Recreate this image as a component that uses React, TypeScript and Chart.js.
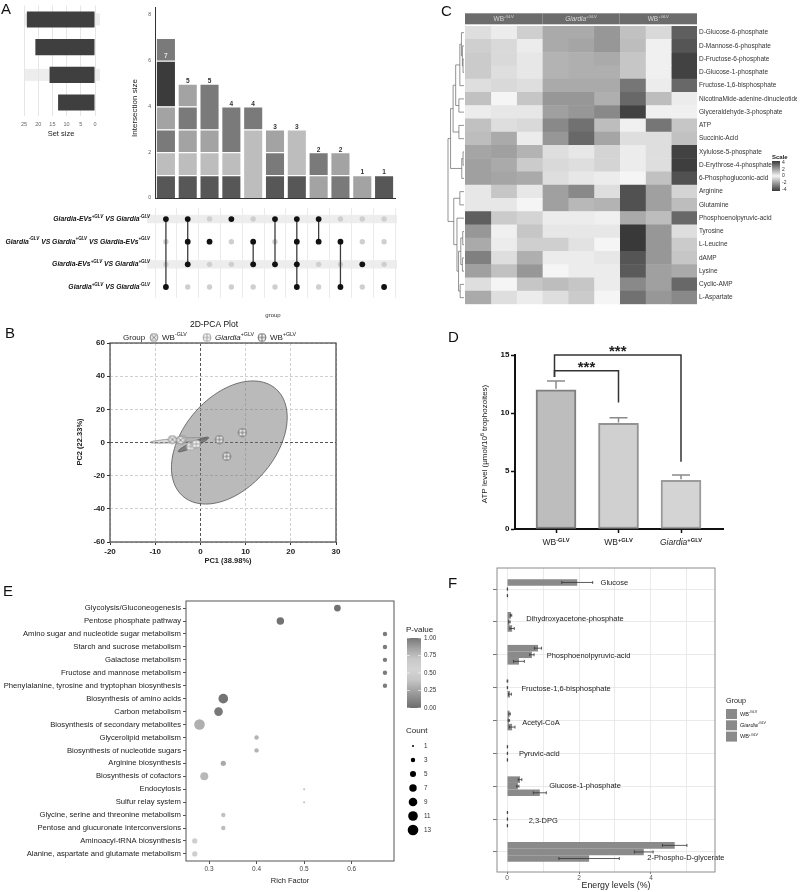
import React, { useEffect, useRef } from 'react';
import { Chart, registerables } from 'chart.js';

Chart.register(...registerables);

const FF = '"Liberation Sans", Arial, Helvetica, sans-serif';
Chart.defaults.font.family = FF;
Chart.defaults.color = '#333';

const PW = 800;
const PH = 892;

/* ============================ DATA ============================ */
// A — UpSet plot
const A_SET_NAMES = [
  'Giardia-EVs^{+GLV} VS Giardia^{-GLV}',
  'Giardia^{-GLV} VS Giardia^{+GLV} VS Giardia-EVs^{+GLV}',
  'Giardia-EVs^{+GLV} VS Giardia^{+GLV}',
  'Giardia^{+GLV} VS Giardia^{-GLV}',
];
const A_SET_SIZES = [24, 21, 16, 13];
const A_INTERSECTIONS = [[0, 3], [0, 1, 2], [1], [0], [1, 2], [0, 2], [0, 1, 2, 3], [0, 1], [1, 3], [2], [3]];
const A_INTERSECTION_SIZES = [7, 5, 5, 4, 4, 3, 3, 2, 2, 1, 1];
const A_SEGMENT_SIZES = [[1, 1, 1, 1, 2, 1], [1, 1, 1, 1, 1], [1, 1, 1, 2], [1, 1, 2], [3, 1], [1, 1, 1], [1, 2], [1, 1], [1, 1], [1], [1]];
const A_SEGMENT_SHADES = [
  ['D', 'L', 'M', 'ML', 'VD', 'M'], ['D', 'L', 'ML', 'M', 'ML'], ['D', 'L', 'ML', 'M'], ['D', 'L', 'M'], ['L', 'M'],
  ['D', 'M', 'ML'], ['D', 'L'], ['ML', 'M'], ['M', 'ML'], ['ML'], ['D'],
];

// C — heatmap
const C_METABOLITES = [
  'D-Glucose-6-phosphate', 'D-Mannose-6-phosphate', 'D-Fructose-6-phosphate', 'D-Glucose-1-phosphate',
  'Fructose-1,6-bisphosphate', 'NicotinaMide-adenine-dinucleotide', 'Glyceraldehyde-3-phosphate', 'ATP',
  'Succinic-Acid', 'Xylulose-5-phosphate', 'D-Erythrose-4-phosphate', '6-Phosphogluconic-acid', 'Arginine',
  'Glutamine', 'Phosphoenolpyruvic-acid', 'Tyrosine', 'L-Leucine', 'dAMP', 'Lysine', 'Cyclic-AMP', 'L-Aspartate',
];
const C_GROUPS = ['WB^{-GLV}', '*Giardia*^{+GLV}', 'WB^{+GLV}'];
const C_SAMPLE_GROUP = [0, 0, 0, 1, 1, 1, 2, 2, 2];
const C_ZSCORES = [
  [-0.5, -0.2, -0.8, 1.6, 1.6, 2.0, -1.1, -0.6, 3.2],
  [-0.8, -0.6, -0.2, 1.6, 1.7, 2.0, -1.2, -0.1, 3.4],
  [-0.9, -0.6, -0.3, 1.4, 1.5, 1.6, -1.0, -0.1, 3.8],
  [-0.9, -0.5, -0.3, 1.4, 1.5, 1.5, -1.0, -0.1, 3.8],
  [-0.5, -0.6, -0.5, 1.6, 1.6, 1.6, 2.7, -0.2, 3.0],
  [-1.1, 0.0, -1.0, 2.0, 2.0, 1.5, 3.0, -1.2, -0.2],
  [-0.2, -0.3, -0.3, 1.8, 2.0, 2.3, 3.8, -0.1, -0.1],
  [-1.1, -0.5, -0.6, 2.3, 2.8, 1.2, -0.1, 2.7, -1.0],
  [-1.2, -1.6, -0.2, 2.0, 3.0, 1.7, -0.5, -0.5, -1.1],
  [-1.7, -1.8, -1.4, 0.5, 0.3, 0.7, -0.2, -0.5, 3.8],
  [-1.8, -1.6, -0.9, 0.6, 0.5, 0.7, -0.2, -0.5, 3.9],
  [-1.8, -1.7, -1.6, 0.5, 0.3, 0.2, 0.0, -1.1, 3.5],
  [-0.3, -1.0, -0.3, 1.8, 2.3, 0.5, 3.5, 1.8, -0.7],
  [-0.3, -0.3, 0.0, 1.8, 1.3, 1.4, 3.5, 1.8, -1.2],
  [-3.2, -0.9, -0.7, -0.2, -0.2, -0.1, 1.6, 1.2, 3.0],
  [-2.0, -0.1, -1.0, -0.3, -0.3, -0.3, 4.0, 2.0, -0.5],
  [-1.6, -0.2, -0.8, -0.8, -0.4, 0.0, 4.0, 2.0, -0.9],
  [-2.5, -0.5, -1.5, -0.2, -0.2, -0.3, 3.4, 2.0, -1.0],
  [-1.8, -1.1, -2.0, 0.0, -0.2, -0.2, 3.3, 1.8, -1.6],
  [-0.5, 0.0, -1.0, -1.2, -1.0, -0.2, 2.3, 1.8, 3.0],
  [-1.6, -0.5, -0.2, -0.5, -0.9, 0.0, 2.8, 2.0, 2.3],
];
const C_SCALE_TICKS = [4, 2, 0, -2, -4];
// [childA, childB, height]; leaves 0..20, merged nodes numbered from 21
const C_DENDROGRAM = [
  [2, 3, 0.3], [1, 21, 0.5], [0, 22, 0.8], [23, 4, 1.3], [5, 6, 1.6], [24, 25, 2.6], [7, 8, 1.6], [26, 27, 3.4],
  [9, 10, 0.3], [29, 11, 0.7], [28, 30, 4.2], [12, 13, 1.3], [15, 16, 0.4], [17, 18, 0.5], [33, 34, 1.0],
  [19, 20, 1.2], [35, 36, 1.7], [14, 37, 2.2], [32, 38, 3.2], [31, 39, 5.0],
];

// B — PCA
const B_GROUPS = ['WB^{-GLV}', '*Giardia*^{+GLV}', 'WB^{+GLV}'];
const B_PC1 = [[-6.2, -4.0, -4.4], [-2.2, -1.1, -0.9], [4.2, 9.3, 5.8]];
const B_PC2 = [[1.8, 1.8, 1.4], [-2.4, -1.2, -0.9], [1.8, 6.0, -8.4]];
const B_ELLIPSE_CENTER = [[-4.8, 1.3], [-1.55, -1.2], [6.4, 0]];
const B_ELLIPSE_AXIS_A = [[6.3, 1.2], [3.35, 4.2], [10, 33]];
const B_ELLIPSE_AXIS_B = [[0.03, -1.2], [0.23, -1.4], [8, -17]];

// D — ATP bars
const D_GROUPS = ['WB^{-GLV}', 'WB^{+GLV}', '*Giardia*^{+GLV}'];
const D_ATP = [12.0, 9.1, 4.2];
const D_ATP_ERR = [0.75, 0.5, 0.45];
const D_COMPARISONS = [[0, 1], [0, 2]];
const D_COMPARISON_TEXT = ['***', '***'];
const D_BRACKET_Y = [13.65, 15];
const D_BRACKET_LEFT_END = [13.1, 13.1];
const D_BRACKET_RIGHT_END = [10.9, 5.8];

// E — KEGG enrichment
const E_PATHWAYS = [
  'Glycolysis/Gluconeogenesis', 'Pentose phosphate pathway', 'Amino sugar and nucleotide sugar metabolism',
  'Starch and sucrose metabolism', 'Galactose metabolism', 'Fructose and mannose metabolism',
  'Phenylalanine, tyrosine and tryptophan biosynthesis', 'Biosynthesis of amino acids', 'Carbon metabolism',
  'Biosynthesis of secondary metabolites', 'Glycerolipid metabolism', 'Biosynthesis of nucleotide sugars',
  'Arginine biosynthesis', 'Biosynthesis of cofactors', 'Endocytosis', 'Sulfur relay system',
  'Glycine, serine and threonine metabolism', 'Pentose and glucuronate interconversions',
  'Aminoacyl-tRNA biosynthesis', 'Alanine, aspartate and glutamate metabolism',
];
const E_RICH_FACTOR = [0.57, 0.45, 0.67, 0.67, 0.67, 0.67, 0.67, 0.33, 0.32, 0.28, 0.4, 0.4, 0.33, 0.29, 0.5, 0.5, 0.33, 0.33, 0.27, 0.27];
const E_COUNT = [6, 7, 3, 3, 3, 3, 3, 11, 9, 13, 3, 3, 4, 8, 1, 1, 3, 3, 4, 4];
const E_PVALUE = [0.02, 0.03, 0.07, 0.07, 0.07, 0.07, 0.07, 0.03, 0.05, 0.3, 0.32, 0.32, 0.28, 0.34, 0.36, 0.36, 0.38, 0.36, 0.5, 0.5];
const E_COUNT_LEGEND = [1, 3, 5, 7, 9, 11, 13];
const E_PVALUE_TICKS = [1, 0.75, 0.5, 0.25, 0];

// F — energy metabolites
const F_METABOLITES = [
  'Glucose', 'Dihydroxyacetone-phosphate', 'Phosphoenolpyruvic-acid', 'Fructose-1,6-bisphosphate', 'Acetyl-CoA',
  'Pyruvic-acid', 'Glucose-1-phosphate', '2,3-DPG', '2-Phospho-D-glycerate',
];
const F_GROUPS = ['WB^{-GLV}', '*Giardia*^{-GLV}', 'WB^{+GLV}'];
const F_WB_NEG = [1.95, 0.11, 0.86, 0.01, 0.07, 0.01, 0.36, 0.01, 4.66];
const F_WB_NEG_SD = [0.43, 0.02, 0.1, 0.01, 0.02, 0.005, 0.05, 0.005, 0.34];
const F_GIARDIA = [0.01, 0.065, 0.69, 0.01, 0.05, 0.01, 0.3, 0.01, 3.8];
const F_GIARDIA_SD = [0.005, 0.02, 0.06, 0.005, 0.02, 0.005, 0.03, 0.005, 0.26];
const F_WB_POS = [0.01, 0.14, 0.33, 0.08, 0.14, 0.01, 0.91, 0.01, 2.28];
const F_WB_POS_SD = [0.005, 0.06, 0.15, 0.04, 0.08, 0.005, 0.18, 0.005, 0.84];

/* ============================ STYLE / LAYOUT ============================ */
const A_SHADE: Record<string, string> = { VD: '#3b3b3b', D: '#575757', M: '#7a7a7a', ML: '#a3a3a3', L: '#bdbdbd' };
const A_LABEL_INSIDE_INDEX = 0;
const F_LABEL_X = [2.6, 0.53, 1.1, 0.4, 0.42, 0.33, 1.17, 0.6, 3.9];
const F_LABEL_DY = [-6, -3, 1, 1, 2, 1, 0, 2, 6];
const E_P_STOPS: [number, number][] = [[0, 108], [0.1, 131], [0.25, 163], [0.4, 198], [0.55, 212], [0.7, 200], [0.85, 164], [1, 120]];

function gray(g: number) { const v = Math.round(g); return `rgb(${v},${v},${v})`; }
function heatGray(z: number) { return gray(Math.max(52, Math.min(246, 245 - Math.abs(z) * 47))); }
function pColor(p: number) {
  for (let i = 1; i < E_P_STOPS.length; i++) {
    const [p1, g1] = E_P_STOPS[i];
    const [p0, g0] = E_P_STOPS[i - 1];
    if (p <= p1) return gray(g0 + (g1 - g0) * (p - p0) / (p1 - p0));
  }
  return gray(E_P_STOPS[E_P_STOPS.length - 1][1]);
}
function eRadius(c: number) { return 1 + 4.3 * (Math.sqrt(c) - 1) / (Math.sqrt(13) - 1); }

/* ============================ TEXT HELPERS ============================ */
type Seg = { t: string; it: boolean; sup: boolean };
function parseRich(s: string): Seg[] {
  const out: Seg[] = [];
  let it = false; let buf = ''; let i = 0;
  const flush = () => { if (buf) out.push({ t: buf, it, sup: false }); buf = ''; };
  while (i < s.length) {
    const ch = s[i];
    if (ch === '*') { flush(); it = !it; i++; continue; }
    if (ch === '^' && s[i + 1] === '{') {
      flush(); const j = s.indexOf('}', i);
      out.push({ t: s.slice(i + 2, j), it, sup: true }); i = j + 1; continue;
    }
    buf += ch; i++;
  }
  flush();
  return out;
}
type RO = { size: number; color?: string; bold?: boolean; italic?: boolean; supBold?: boolean; align?: string; supScale?: number };
function segFont(sg: Seg, o: RO) {
  const sz = sg.sup ? o.size * (o.supScale ?? 0.66) : o.size;
  const b = sg.sup ? (o.supBold ?? o.bold) : o.bold;
  return `${sg.it || o.italic ? 'italic ' : ''}${b ? 'bold ' : ''}${sz}px ${FF}`;
}
function drawRich(ctx: CanvasRenderingContext2D, s: string, x: number, y: number, o: RO) {
  const segs = parseRich(s);
  let total = 0;
  const ws = segs.map((sg) => { ctx.font = segFont(sg, o); const w = ctx.measureText(sg.t).width; total += w; return w; });
  let cx = o.align === 'right' ? x - total : o.align === 'center' ? x - total / 2 : x;
  ctx.fillStyle = o.color ?? '#222';
  ctx.textBaseline = 'middle';
  ctx.textAlign = 'left';
  segs.forEach((sg, k) => {
    ctx.font = segFont(sg, o);
    ctx.fillText(sg.t, cx, sg.sup ? y - o.size * 0.36 : y);
    cx += ws[k];
  });
  return total;
}
function drawRotated(ctx: CanvasRenderingContext2D, s: string, x: number, y: number, o: RO) {
  ctx.save(); ctx.translate(x, y); ctx.rotate(-Math.PI / 2);
  drawRich(ctx, s, 0, 0, { ...o, align: 'center' });
  ctx.restore();
}
function txt(ctx: CanvasRenderingContext2D, t: string, x: number, y: number, size: number, o: any = {}) {
  ctx.font = `${o.italic ? 'italic ' : ''}${o.bold ? 'bold ' : ''}${size}px ${FF}`;
  ctx.fillStyle = o.color ?? '#222';
  ctx.textAlign = o.align ?? 'left';
  ctx.textBaseline = o.baseline ?? 'middle';
  ctx.fillText(t, x, y);
}
function letter(ctx: CanvasRenderingContext2D, t: string, x: number, y: number) {
  txt(ctx, t, x, y, 15, { color: '#111', baseline: 'alphabetic' });
}

/* ============================ COMMON ============================ */
function pad(left: number, top: number, right: number, bottom: number) {
  return { left, top, right: PW - right, bottom: PH - bottom };
}
function baseOptions(padding: any, scales: any, extra: any = {}) {
  return {
    responsive: false,
    maintainAspectRatio: false,
    animation: false,
    events: [],
    layout: { padding },
    plugins: { legend: { display: false }, tooltip: { enabled: false } },
    scales,
    ...extra,
  };
}
function plugin(id: string, hooks: any) {
  const wrapped: any = { id };
  Object.keys(hooks).forEach((k) => {
    wrapped[k] = (chart: any) => { const ctx = chart.ctx; ctx.save(); hooks[k](ctx, chart); ctx.restore(); };
  });
  return wrapped;
}

/* ============================ PANEL A ============================ */
function cfgA1() {
  return {
    type: 'bar',
    data: {
      labels: A_SET_NAMES,
      datasets: [{ data: A_SET_SIZES, backgroundColor: '#3f3f3f', barPercentage: 0.58, categoryPercentage: 1 }],
    },
    options: baseOptions(pad(24, 5.6, 95, 116.4 + 20), {
      x: {
        type: 'linear', min: 0, max: 25, reverse: true,
        ticks: { stepSize: 5, font: { size: 5.5 }, color: '#666', padding: 5 },
        grid: { color: '#e6e6e6', drawTicks: false },
        border: { display: false },
        afterFit: (s: any) => { s.height = 20; },
      },
      y: { type: 'category', display: false },
    }, { indexAxis: 'y' }),
    plugins: [plugin('a1', {
      beforeDraw: (ctx: CanvasRenderingContext2D, chart: any) => {
        const y = chart.scales.y;
        ctx.fillStyle = '#ededed';
        A_SET_SIZES.forEach((_, i) => { if (i % 2 === 0) ctx.fillRect(25, y.getPixelForValue(i) - 6, 75, 12); });
      },
      afterDraw: (ctx: CanvasRenderingContext2D) => {
        txt(ctx, 'Set size', 61, 134, 7.5, { align: 'center', color: '#222' });
        letter(ctx, 'A', 1, 13.5);
      },
    })],
  };
}

function cfgA2() {
  const nLayers = Math.max(...A_SEGMENT_SIZES.map((s) => s.length));
  const datasets: any[] = [];
  for (let k = 0; k < nLayers; k++) {
    datasets.push({
      data: A_SEGMENT_SIZES.map((s) => (s[k] === undefined ? null : s[k])),
      backgroundColor: A_SEGMENT_SHADES.map((s) => A_SHADE[s[k]] ?? 'rgba(0,0,0,0)'),
      borderColor: '#ffffff', borderWidth: 1, borderSkipped: 'start',
      barPercentage: 0.92, categoryPercentage: 1,
    });
  }
  return {
    type: 'bar',
    data: { labels: A_INTERSECTION_SIZES.map((_, i) => `I${i + 1}`), datasets },
    options: baseOptions(pad(155 - 10, 5, 395, 198), {
      x: {
        stacked: true, ticks: { display: false }, grid: { display: false, drawTicks: false },
        border: { display: true, color: '#333', width: 1 }, afterFit: (s: any) => { s.height = 0; },
      },
      y: {
        stacked: true, min: 0, max: 8.35,
        ticks: { stepSize: 2, includeBounds: false, font: { size: 5 }, color: '#555', padding: 4 },
        grid: { display: false, drawTicks: false },
        border: { display: true, color: '#333', width: 1 },
        afterFit: (s: any) => { s.width = 10; },
      },
    }),
    plugins: [plugin('a2', {
      afterDatasetsDraw: (ctx: CanvasRenderingContext2D, chart: any) => {
        const { x, y } = chart.scales;
        A_INTERSECTION_SIZES.forEach((n, i) => {
          const inside = i === A_LABEL_INSIDE_INDEX;
          const py = inside ? y.getPixelForValue(n - 0.8) : y.getPixelForValue(n) - 2.5;
          txt(ctx, String(n), x.getPixelForValue(i), py, 6.5, { bold: true, align: 'center', color: inside ? '#e4e4e4' : '#333' });
        });
      },
      afterDraw: (ctx: CanvasRenderingContext2D) => {
        drawRotated(ctx, 'Intersection size', 135, 108, { size: 8, color: '#222' });
      },
    })],
  };
}

function cfgA3() {
  const active: any[] = [];
  const inactive: any[] = [];
  const lines: any[] = [];
  A_INTERSECTIONS.forEach((sets, i) => {
    A_SET_NAMES.forEach((_, r) => (sets.includes(r) ? active : inactive).push({ x: i, y: r }));
    if (sets.length > 1) {
      lines.push({
        type: 'line', data: [{ x: i, y: Math.min(...sets) }, { x: i, y: Math.max(...sets) }],
        borderColor: '#3c3c3c', borderWidth: 1.3, pointRadius: 0, order: 1,
      });
    }
  });
  return {
    type: 'scatter',
    data: {
      datasets: [
        { data: active, backgroundColor: '#111', borderWidth: 0, pointRadius: 2.9, order: 0 },
        ...lines,
        { data: inactive, backgroundColor: '#cfcfcf', borderWidth: 0, pointRadius: 2.7, order: 2 },
      ],
    },
    options: baseOptions(pad(155, 207.7, 395, 298.3), {
      x: {
        type: 'linear', min: -0.5, max: 10.5,
        ticks: { display: false, stepSize: 1, includeBounds: false },
        grid: { color: '#ebebeb', drawTicks: false }, border: { display: false },
        afterFit: (s: any) => { s.height = 0; },
      },
      y: { type: 'linear', min: -0.5, max: 3.5, reverse: true, display: false },
    }),
    plugins: [plugin('a3', {
      beforeDraw: (ctx: CanvasRenderingContext2D, chart: any) => {
        const y = chart.scales.y;
        ctx.fillStyle = '#ededed';
        A_SET_NAMES.forEach((_, r) => { if (r % 2 === 0) ctx.fillRect(147, y.getPixelForValue(r) - 4.2, 250, 8.4); });
      },
      afterDraw: (ctx: CanvasRenderingContext2D, chart: any) => {
        const y = chart.scales.y;
        A_SET_NAMES.forEach((name, r) => {
          drawRich(ctx, name, 150, y.getPixelForValue(r), { size: 6.8, bold: true, italic: true, align: 'right', color: '#111' });
        });
        txt(ctx, 'group', 273, 315, 6, { align: 'center', color: '#333' });
      },
    })],
  };
}

/* ============================ PANEL C ============================ */
function cfgC() {
  const datasets = C_SAMPLE_GROUP.map((_, j) => ({
    data: C_METABOLITES.map(() => 1),
    backgroundColor: C_ZSCORES.map((row) => heatGray(row[j])),
    borderWidth: 0, barPercentage: 1, categoryPercentage: 1,
  }));
  return {
    type: 'bar',
    data: { labels: C_METABOLITES, datasets },
    options: baseOptions(pad(465, 26, 697 + 100, 304.3), {
      x: { type: 'linear', stacked: true, min: 0, max: C_SAMPLE_GROUP.length, display: false },
      y: {
        position: 'right', stacked: true,
        ticks: { font: { size: 6.5 }, color: '#333', padding: 2, autoSkip: false },
        grid: { display: false, drawTicks: false }, border: { display: false },
        afterFit: (s: any) => { s.width = 100; },
      },
    }, { indexAxis: 'y' }),
    plugins: [plugin('c', {
      afterDraw: (ctx: CanvasRenderingContext2D, chart: any) => {
        const { x, y } = chart.scales;
        // header bars
        C_GROUPS.forEach((g, gi) => {
          const cols = C_SAMPLE_GROUP.map((v, j) => (v === gi ? j : -1)).filter((j) => j >= 0);
          const x0 = x.getPixelForValue(Math.min(...cols));
          const x1 = x.getPixelForValue(Math.max(...cols) + 1);
          ctx.fillStyle = '#6c6c6c';
          ctx.fillRect(x0, 13.3, x1 - x0, 11);
          drawRich(ctx, g, (x0 + x1) / 2, 18.8, { size: 6.5, color: '#d6d6d6', align: 'center' });
        });
        // dendrogram
        const pos: { x: number; y: number }[] = C_METABOLITES.map((_, i) => ({ x: 464, y: y.getPixelForValue(i) }));
        ctx.strokeStyle = '#666';
        ctx.lineWidth = 0.7;
        C_DENDROGRAM.forEach(([a, b, h]) => {
          const nx = 464 - h * 3.2;
          const pa = pos[a]; const pb = pos[b];
          ctx.beginPath();
          ctx.moveTo(pa.x, pa.y); ctx.lineTo(nx, pa.y); ctx.lineTo(nx, pb.y); ctx.lineTo(pb.x, pb.y);
          ctx.stroke();
          pos.push({ x: nx, y: (pa.y + pb.y) / 2 });
        });
        // scale legend
        txt(ctx, 'Scale', 772, 157, 6, { bold: true, color: '#222' });
        const top = 161; const bot = 191;
        const grad = ctx.createLinearGradient(0, top, 0, bot);
        C_SCALE_TICKS.forEach((v, k) => grad.addColorStop(k / (C_SCALE_TICKS.length - 1), heatGray(v)));
        ctx.fillStyle = grad;
        ctx.fillRect(772, top, 8, bot - top);
        C_SCALE_TICKS.forEach((v, k) => {
          txt(ctx, String(v), 782, top + 1.5 + k * (bot - top - 3) / (C_SCALE_TICKS.length - 1), 5, { color: '#333' });
        });
        letter(ctx, 'C', 441, 15.5);
      },
    })],
  };
}

/* ============================ PANEL B ============================ */
function makeMarker(kind: string, fill: string, stroke: string) {
  const c = document.createElement('canvas');
  c.width = 10; c.height = 10;
  const g = c.getContext('2d')!;
  g.fillStyle = fill; g.strokeStyle = stroke; g.lineWidth = 0.9;
  g.beginPath(); g.arc(5, 5, 4, 0, Math.PI * 2); g.fill(); g.stroke();
  g.beginPath();
  if (kind === '+') { g.moveTo(5, 1); g.lineTo(5, 9); g.moveTo(1, 5); g.lineTo(9, 5); } else {
    const d = 4 * Math.SQRT1_2;
    g.moveTo(5 - d, 5 - d); g.lineTo(5 + d, 5 + d); g.moveTo(5 + d, 5 - d); g.lineTo(5 - d, 5 + d);
  }
  g.stroke();
  return c;
}
function cfgB() {
  const markers = [makeMarker('x', '#e4e4e4', '#8a8a8a'), makeMarker('+', '#f3f3f3', '#a0a0a0'), makeMarker('+', '#f6f6f6', '#6a6a6a')];
  const fills = ['rgba(175,175,175,0.45)', 'rgba(70,70,70,0.5)', 'rgba(110,110,110,0.48)'];
  const strokes = ['#8c8c8c', '#555', '#555'];
  const tickFont = { size: 8, weight: 'bold' };
  const gridColor = (c: any) => (c.tick && c.tick.value === 0 ? '#555' : '#cfcfcf');
  return {
    type: 'scatter',
    data: {
      datasets: B_GROUPS.map((_, g) => ({
        data: B_PC1[g].map((v, i) => ({ x: v, y: B_PC2[g][i] })),
        pointStyle: markers[g], pointRadius: 4, order: 2 - g,
      })),
    },
    options: baseOptions(pad(110 - 26, 343, 336, 542 + 14), {
      x: {
        type: 'linear', min: -20, max: 30,
        ticks: { stepSize: 10, font: tickFont, color: '#222', padding: 2 },
        grid: { color: gridColor, lineWidth: 1, tickLength: 3, tickColor: '#333', tickBorderDash: [] },
        border: { display: false, dash: [3, 2] },
        afterFit: (s: any) => { s.height = 14; },
      },
      y: {
        type: 'linear', min: -60, max: 60,
        ticks: { stepSize: 20, font: tickFont, color: '#222', padding: 2 },
        grid: { color: gridColor, lineWidth: 1, tickLength: 3, tickColor: '#333', tickBorderDash: [] },
        border: { display: false, dash: [3, 2] },
        afterFit: (s: any) => { s.width = 26; },
      },
    }),
    plugins: [plugin('b', {
      beforeDatasetsDraw: (ctx: CanvasRenderingContext2D, chart: any) => {
        const { x, y } = chart.scales;
        const a = chart.chartArea;
        ctx.beginPath(); ctx.rect(a.left, a.top, a.right - a.left, a.bottom - a.top); ctx.clip();
        [2, 0, 1].forEach((g) => {
          const c = B_ELLIPSE_CENTER[g]; const u = B_ELLIPSE_AXIS_A[g]; const v = B_ELLIPSE_AXIS_B[g];
          ctx.beginPath();
          for (let k = 0; k <= 120; k++) {
            const t = (k / 120) * Math.PI * 2;
            const px = x.getPixelForValue(c[0] + u[0] * Math.cos(t) + v[0] * Math.sin(t));
            const py = y.getPixelForValue(c[1] + u[1] * Math.cos(t) + v[1] * Math.sin(t));
            if (k === 0) ctx.moveTo(px, py); else ctx.lineTo(px, py);
          }
          ctx.closePath();
          ctx.fillStyle = fills[g]; ctx.fill();
          ctx.strokeStyle = strokes[g]; ctx.lineWidth = 0.8; ctx.stroke();
        });
      },
      afterDraw: (ctx: CanvasRenderingContext2D, chart: any) => {
        const a = chart.chartArea;
        ctx.strokeStyle = '#444'; ctx.lineWidth = 1.2;
        ctx.strokeRect(a.left, a.top, a.right - a.left, a.bottom - a.top);
        txt(ctx, '2D-PCA Plot', 214, 325, 8.5, { align: 'center', color: '#111' });
        txt(ctx, 'Group', 123, 337.5, 8, { color: '#222' });
        const lx = [154, 207, 262];
        B_GROUPS.forEach((g, i) => {
          ctx.drawImage(markers[i], lx[i] - 5, 332.5);
          drawRich(ctx, g, lx[i] + 8, 337.5, { size: 8, color: '#222' });
        });
        drawRotated(ctx, 'PC2 (22.33%)', 80, 442, { size: 7.5, bold: true, color: '#222' });
        txt(ctx, 'PC1 (38.98%)', 228, 561, 7.5, { bold: true, align: 'center', color: '#222' });
        letter(ctx, 'B', 5, 337.5);
      },
    })],
  };
}

/* ============================ PANEL D ============================ */
function cfgD() {
  return {
    type: 'bar',
    data: {
      datasets: [{
        data: D_ATP.map((v, i) => ({ x: i, y: v })),
        backgroundColor: ['#bdbdbd', '#d0d0d0', '#d4d4d4'],
        borderColor: ['#7f7f7f', '#939393', '#9b9b9b'],
        borderWidth: 2, borderSkipped: false, barThickness: 40,
      }],
    },
    options: baseOptions(pad(515 - 16, 355, 723, 529 + 5), {
      x: {
        type: 'linear', min: -0.656, max: 2.672, offset: false,
        ticks: { stepSize: 1, includeBounds: false, display: false },
        grid: { drawOnChartArea: false, offset: false, tickLength: 4, tickWidth: 1.5, tickColor: '#111' },
        border: { display: true, color: '#111', width: 2 },
        afterFit: (s: any) => { s.height = 5; },
      },
      y: {
        type: 'linear', min: 0, max: 15,
        ticks: { stepSize: 5, font: { size: 8, weight: 'bold' }, color: '#111', padding: 1.5 },
        grid: { drawOnChartArea: false, tickLength: 4, tickWidth: 1.5, tickColor: '#111' },
        border: { display: true, color: '#111', width: 2 },
        afterFit: (s: any) => { s.width = 16; },
      },
    }),
    plugins: [plugin('d', {
      afterDatasetsDraw: (ctx: CanvasRenderingContext2D, chart: any) => {
        const { x, y } = chart.scales;
        ctx.strokeStyle = '#8a8a8a'; ctx.lineWidth = 1.5;
        D_ATP.forEach((v, i) => {
          const px = x.getPixelForValue(i);
          const top = y.getPixelForValue(v + D_ATP_ERR[i]);
          ctx.beginPath();
          ctx.moveTo(px, y.getPixelForValue(v) - 1); ctx.lineTo(px, top);
          ctx.moveTo(px - 9, top); ctx.lineTo(px + 9, top);
          ctx.stroke();
        });
        ctx.strokeStyle = '#333'; ctx.lineWidth = 1.5;
        D_COMPARISONS.forEach(([a, b], k) => {
          const xa = x.getPixelForValue(a) - 1.5;
          const xb = x.getPixelForValue(b);
          const yl = y.getPixelForValue(D_BRACKET_Y[k]);
          ctx.beginPath();
          ctx.moveTo(xa, y.getPixelForValue(D_BRACKET_LEFT_END[k]));
          ctx.lineTo(xa, yl); ctx.lineTo(xb, yl);
          ctx.lineTo(xb, y.getPixelForValue(D_BRACKET_RIGHT_END[k]));
          ctx.stroke();
          txt(ctx, D_COMPARISON_TEXT[k], (xa + xb) / 2, yl - 7 + 0.56 * 15, 15, { bold: true, align: 'center', baseline: 'alphabetic', color: '#222' });
        });
      },
      afterDraw: (ctx: CanvasRenderingContext2D, chart: any) => {
        const x = chart.scales.x;
        D_GROUPS.forEach((g, i) => {
          drawRich(ctx, g, x.getPixelForValue(i), 543, { size: 8.5, supBold: true, supScale: 0.68, align: 'center', color: '#222' });
        });
        drawRotated(ctx, 'ATP level (μmol/10^{6} trophozoites)', 485, 444, { size: 8, color: '#222' });
        letter(ctx, 'D', 448, 342);
      },
    })],
  };
}

/* ============================ PANEL E ============================ */
function cfgE() {
  return {
    type: 'bubble',
    data: {
      datasets: [{
        data: E_PATHWAYS.map((_, i) => ({ x: E_RICH_FACTOR[i], y: i, r: eRadius(E_COUNT[i]) })),
        backgroundColor: E_PVALUE.map(pColor),
        borderWidth: 0,
      }],
    },
    options: baseOptions(pad(3, 601, 394, 861 + 12), {
      x: {
        type: 'linear', min: 0.2516, max: 0.689,
        ticks: { stepSize: 0.1, includeBounds: false, font: { size: 6.5 }, color: '#444', padding: 1.5, callback: (v: number) => v.toFixed(1) },
        grid: { drawOnChartArea: false, tickLength: 3, tickColor: '#555' },
        border: { display: false },
        afterFit: (s: any) => { s.height = 12; },
      },
      y: {
        type: 'linear', min: -0.55, max: 19.55, reverse: true,
        ticks: { stepSize: 1, includeBounds: false, autoSkip: false, font: { size: 7.7 }, color: '#222', padding: 2, callback: (v: number) => E_PATHWAYS[v] ?? '' },
        grid: { drawOnChartArea: false, tickLength: 3, tickColor: '#555' },
        border: { display: false },
        afterFit: (s: any) => { s.width = 183; },
      },
    }),
    plugins: [plugin('e', {
      afterDraw: (ctx: CanvasRenderingContext2D, chart: any) => {
        const a = chart.chartArea;
        ctx.strokeStyle = '#555'; ctx.lineWidth = 1;
        ctx.strokeRect(a.left, a.top, a.right - a.left, a.bottom - a.top);
        txt(ctx, 'Rich Factor', (a.left + a.right) / 2, 881, 7.5, { align: 'center', color: '#222' });
        // P-value colour bar
        txt(ctx, 'P-value', 406, 630, 8, { color: '#222' });
        const top = 638; const bot = 708;
        const grad = ctx.createLinearGradient(0, top, 0, bot);
        E_P_STOPS.forEach(([p, g]) => grad.addColorStop(1 - p, gray(g)));
        ctx.fillStyle = grad;
        ctx.fillRect(407, top, 14, bot - top);
        E_PVALUE_TICKS.forEach((p) => {
          const py = top + (1 - p) * (bot - top);
          ctx.strokeStyle = '#fff'; ctx.lineWidth = 0.6;
          ctx.beginPath(); ctx.moveTo(407, py); ctx.lineTo(410, py); ctx.moveTo(418, py); ctx.lineTo(421, py); ctx.stroke();
          txt(ctx, p.toFixed(2), 424, py, 6.3, { color: '#333' });
        });
        // Count legend
        txt(ctx, 'Count', 406, 731, 8, { color: '#222' });
        E_COUNT_LEGEND.forEach((c, k) => {
          const py = 746 + k * 14;
          ctx.fillStyle = '#000';
          ctx.beginPath(); ctx.arc(413, py, eRadius(c), 0, Math.PI * 2); ctx.fill();
          txt(ctx, String(c), 424, py, 6.3, { color: '#333' });
        });
        letter(ctx, 'E', 3, 596);
      },
    })],
  };
}

/* ============================ PANEL F ============================ */
function cfgF() {
  const means = [F_WB_NEG, F_GIARDIA, F_WB_POS];
  const sds = [F_WB_NEG_SD, F_GIARDIA_SD, F_WB_POS_SD];
  return {
    type: 'bar',
    data: {
      datasets: means.map((m) => ({
        data: m.map((v, i) => ({ x: v, y: i })),
        backgroundColor: '#8a8a8a', borderWidth: 0, barPercentage: 1, categoryPercentage: 0.6,
      })),
    },
    options: baseOptions(pad(497 - 4, 568, 715, 872 + 10), {
      x: {
        type: 'linear', min: -0.28, max: 5.78,
        ticks: { stepSize: 1, includeBounds: false, font: { size: 6.5 }, color: '#555', padding: 0, callback: (v: number) => (v % 2 === 0 ? String(v) : '') },
        grid: { color: '#e4e4e4', lineWidth: 0.8, tickLength: 2, tickColor: (c: any) => (c.tick && c.tick.value % 2 === 0 ? '#555' : 'rgba(0,0,0,0)') },
        border: { display: false },
        afterFit: (s: any) => { s.height = 10; },
      },
      y: {
        type: 'linear', min: -0.64, max: 8.61, reverse: true, offset: false,
        ticks: { stepSize: 1, includeBounds: false, autoSkip: false, callback: () => '' },
        grid: { color: '#e4e4e4', lineWidth: 0.8, offset: false, tickLength: 4, tickColor: '#555' },
        border: { display: false },
        afterFit: (s: any) => { s.width = 4; },
      },
    }, { indexAxis: 'y' }),
    plugins: [plugin('f', {
      afterDatasetsDraw: (ctx: CanvasRenderingContext2D, chart: any) => {
        const { x, y } = chart.scales;
        ctx.strokeStyle = '#333'; ctx.lineWidth = 0.8;
        means.forEach((m, d) => {
          const meta = chart.getDatasetMeta(d);
          m.forEach((v, i) => {
            const el = meta.data[i];
            const py = el.y;
            const x0 = x.getPixelForValue(v - sds[d][i]);
            const x1 = x.getPixelForValue(v + sds[d][i]);
            ctx.beginPath();
            ctx.moveTo(x0, py); ctx.lineTo(x1, py);
            ctx.moveTo(x0, py - 1.5); ctx.lineTo(x0, py + 1.5);
            ctx.moveTo(x1, py - 1.5); ctx.lineTo(x1, py + 1.5);
            ctx.stroke();
          });
        });
        F_METABOLITES.forEach((name, i) => {
          txt(ctx, name, x.getPixelForValue(F_LABEL_X[i]), y.getPixelForValue(i) + F_LABEL_DY[i], 7.5, { color: '#222' });
        });
      },
      afterDraw: (ctx: CanvasRenderingContext2D, chart: any) => {
        const a = chart.chartArea;
        ctx.strokeStyle = '#8c8c8c'; ctx.lineWidth = 1;
        ctx.strokeRect(a.left, a.top, a.right - a.left, a.bottom - a.top);
        txt(ctx, 'Energy levels (%)', 616, 886, 8.8, { align: 'center', color: '#222' });
        txt(ctx, 'Group', 726, 701, 7.2, { color: '#222' });
        F_GROUPS.forEach((g, k) => {
          const ty = 709 + k * 11.3;
          ctx.fillStyle = '#8a8a8a';
          ctx.fillRect(726, ty, 11, 10);
          drawRich(ctx, g, 740, ty + 5, { size: 5.5, color: '#222' });
        });
        letter(ctx, 'F', 448, 588);
      },
    })],
  };
}

/* ============================ COMPONENTS ============================ */
function PageChart({ make }: { make: () => any }) {
  const ref = useRef<HTMLCanvasElement>(null);
  useEffect(() => {
    const chart = new Chart(ref.current as HTMLCanvasElement, make());
    return () => chart.destroy();
  }, [make]);
  return <canvas ref={ref} width={PW} height={PH} style={{ position: 'absolute', left: 0, top: 0 }} />;
}

const MAKERS = [cfgA1, cfgA2, cfgA3, cfgC, cfgB, cfgD, cfgE, cfgF];

export default function App() {
  return (
    <div style={{ position: 'absolute', left: 0, top: 0, width: PW, height: PH, background: '#ffffff', overflow: 'hidden' }}>
      {MAKERS.map((m, i) => <PageChart key={i} make={m} />)}
    </div>
  );
}
